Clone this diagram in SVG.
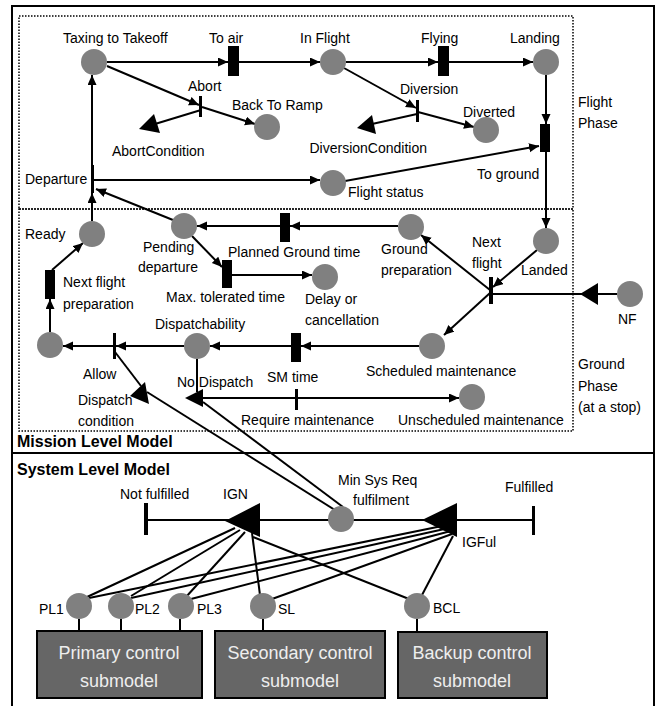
<svg xmlns="http://www.w3.org/2000/svg" width="657" height="706" viewBox="0 0 657 706">
<defs>
<style>
text{font-family:"Liberation Sans",Arial,sans-serif;font-size:14px;fill:#000}
.b{font-weight:bold;font-size:16px}
.bx{font-size:18px;fill:#eeeeee}
.pl{fill:#808080}
.c{stroke:#000;stroke-width:2;fill:none}
.ca{stroke:#000;stroke-width:2;fill:none;marker-end:url(#a)}
.tr{fill:#000}
.bar{fill:#000}
.dot{fill:none;stroke:#000;stroke-width:1.5;stroke-dasharray:1.5 1.5}
.box{fill:#666666;stroke:#000;stroke-width:2}
</style>
<marker id="a" markerUnits="userSpaceOnUse" markerWidth="11" markerHeight="10" refX="10" refY="4.5" orient="auto"><path d="M0,0 L10,4.5 L0,9 z" fill="#000"/></marker>
</defs>
<rect width="657" height="706" fill="#fff"/>
<g id="frame">
<path d="M12,706 V6 H654 V706" fill="none" stroke="#000" stroke-width="2"/>
<line x1="12" y1="453" x2="654" y2="453" stroke="#000" stroke-width="2"/>
<rect class="dot" x="19" y="16" width="554" height="193"/>
<rect class="dot" x="19" y="209" width="554" height="222"/>
<text x="578" y="107">Flight</text><text x="578" y="128">Phase</text>
<text x="578" y="369">Ground</text><text x="578" y="391">Phase</text><text x="578" y="412">(at a stop)</text>
<text class="b" x="17" y="447">Mission Level Model</text>
<text class="b" x="17" y="475">System Level Model</text>
</g>
<g id="connectors">
<line class="ca" x1="107" y1="62" x2="228" y2="62"/>
<line class="ca" x1="239" y1="62" x2="320" y2="62"/>
<line class="ca" x1="346" y1="62" x2="438" y2="62"/>
<line class="ca" x1="449" y1="62" x2="533" y2="62"/>
<line class="ca" x1="107" y1="66" x2="199" y2="105"/>
<line class="ca" x1="202" y1="107" x2="255" y2="124"/>
<line class="c" x1="201" y1="110" x2="155" y2="124"/>
<line class="ca" x1="344" y1="68" x2="416" y2="108"/>
<line class="ca" x1="418" y1="112" x2="474" y2="127"/>
<line class="c" x1="417" y1="114" x2="372" y2="124"/>
<line class="ca" x1="546" y1="75" x2="546" y2="124"/>
<line class="ca" x1="546" y1="152" x2="546" y2="228"/>
<line class="ca" x1="92" y1="165" x2="92" y2="75"/>
<line class="ca" x1="94" y1="180" x2="320" y2="180"/>
<line class="ca" x1="345" y1="181" x2="539" y2="146"/>
<line class="ca" x1="92" y1="221" x2="92" y2="193"/>
<line class="ca" x1="173" y1="220" x2="96" y2="189"/>
<line class="ca" x1="398" y1="226" x2="290" y2="226"/>
<line class="ca" x1="280" y1="226" x2="197" y2="226"/>
<line class="ca" x1="192" y1="236" x2="222" y2="267"/>
<line class="ca" x1="232" y1="275" x2="312" y2="275"/>
<line class="ca" x1="537" y1="250" x2="493" y2="287"/>
<line class="ca" x1="490" y1="290" x2="421" y2="235"/>
<line class="ca" x1="490" y1="293" x2="444" y2="335"/>
<line class="c" x1="492" y1="294" x2="617" y2="294"/>
<line class="ca" x1="419" y1="346" x2="301" y2="346"/>
<line class="ca" x1="291" y1="346" x2="210" y2="346"/>
<line class="ca" x1="184" y1="346" x2="116" y2="346"/>
<line class="ca" x1="114" y1="346" x2="63" y2="346"/>
<line class="ca" x1="50" y1="332" x2="50" y2="299"/>
<line class="ca" x1="52" y1="270" x2="83" y2="243"/>
<line class="c" x1="197" y1="359" x2="197" y2="392"/>
<line class="ca" x1="203" y1="398" x2="459" y2="398"/>
<line class="c" x1="115" y1="352" x2="141" y2="386"/>
<line class="c" x1="147" y1="392" x2="335" y2="510"/>
<line class="c" x1="203" y1="402" x2="343" y2="507"/>
<line class="c" x1="146" y1="520" x2="533" y2="520"/>
<line class="c" x1="235" y1="528" x2="87" y2="597"/>
<line class="c" x1="240" y1="530" x2="131" y2="596"/>
<line class="c" x1="245" y1="532" x2="186" y2="597"/>
<line class="c" x1="252" y1="533" x2="260" y2="595"/>
<line class="c" x1="253" y1="537" x2="409" y2="599"/>
<line class="c" x1="447" y1="525" x2="89" y2="598"/>
<line class="c" x1="449" y1="528" x2="131" y2="598"/>
<line class="c" x1="451" y1="531" x2="191" y2="599"/>
<line class="c" x1="452" y1="534" x2="272" y2="599"/>
<line class="c" x1="453" y1="536" x2="422" y2="595"/>
<line class="c" x1="79" y1="619" x2="79" y2="631"/>
<line class="c" x1="121" y1="619" x2="121" y2="631"/>
<line class="c" x1="180" y1="619" x2="180" y2="631"/>
<line class="c" x1="263" y1="619" x2="263" y2="631"/>
<line class="c" x1="417" y1="619" x2="417" y2="632"/>
</g>
<g id="taxing"><circle class="pl" cx="94" cy="62" r="13"/><text x="63" y="43">Taxing to Takeoff</text></g>
<g id="toair"><rect class="bar" x="228" y="46" width="11" height="30"/><text x="209" y="43">To air</text></g>
<g id="inflight"><circle class="pl" cx="333" cy="62" r="13"/><text x="300" y="43">In Flight</text></g>
<g id="flying"><rect class="bar" x="438" y="46" width="11" height="30"/><text x="421" y="43">Flying</text></g>
<g id="landing"><circle class="pl" cx="546" cy="62" r="13"/><text x="510" y="43">Landing</text></g>
<g id="abort"><rect class="bar" x="199" y="96" width="3" height="21"/><text x="188" y="91">Abort</text></g>
<g id="backramp"><circle class="pl" cx="267" cy="127" r="13"/><text x="232" y="110">Back To Ramp</text></g>
<g id="abortcond"><polygon class="tr" points="139,129 154,114 160,133"/><text x="112" y="156">AbortCondition</text></g>
<g id="diversion"><rect class="bar" x="416" y="100" width="3" height="22"/><text x="400" y="94">Diversion</text></g>
<g id="diverted"><circle class="pl" cx="486" cy="130" r="13"/><text x="463" y="117">Diverted</text></g>
<g id="divcond"><polygon class="tr" points="357,128 372,115 376,134"/><text x="427" y="153" text-anchor="end">DiversionCondition</text></g>
<g id="toground"><rect class="bar" x="540" y="124" width="10" height="28"/><text x="477" y="179">To ground</text></g>
<g id="departure"><rect class="bar" x="91" y="165" width="3" height="28"/><text x="25" y="184">Departure</text></g>
<g id="flightstatus"><circle class="pl" cx="333" cy="183" r="13"/><text x="348" y="197">Flight status</text></g>
<g id="ready"><circle class="pl" cx="92" cy="234" r="13"/><text x="25" y="239">Ready</text></g>
<g id="pending"><circle class="pl" cx="184" cy="226" r="13"/><text x="143" y="252">Pending</text><text x="138" y="272">departure</text></g>
<g id="plannedground"><rect class="bar" x="280" y="213" width="10" height="29"/><text x="228" y="257">Planned Ground  time</text></g>
<g id="groundprep"><circle class="pl" cx="411" cy="227" r="13"/><text x="381" y="254">Ground</text><text x="381" y="275">preparation</text></g>
<g id="nextflight"><rect class="bar" x="489" y="277" width="4" height="27"/><text x="472" y="247">Next</text><text x="472" y="268">flight</text></g>
<g id="landed"><circle class="pl" cx="546" cy="241" r="13"/><text x="521" y="275">Landed</text></g>
<g id="nf"><circle class="pl" cx="630" cy="294" r="13"/><polygon class="tr" points="580,294 598,283 598,305"/><text x="618" y="324">NF</text></g>
<g id="nextflightprep"><rect class="bar" x="45" y="270" width="10" height="29"/><text x="63" y="287">Next flight</text><text x="63" y="309">preparation</text></g>
<g id="maxtol"><rect class="bar" x="222" y="260" width="10" height="28"/><text x="166" y="302">Max. tolerated  time</text></g>
<g id="delay"><circle class="pl" cx="325" cy="277" r="13"/><text x="305" y="304">Delay or</text><text x="305" y="325">cancellation</text></g>
<g id="stop"><circle class="pl" cx="50" cy="345" r="13"/></g>
<g id="allow"><rect class="bar" x="113" y="333" width="3" height="26"/><text x="83" y="379">Allow</text></g>
<g id="dispatchability"><circle class="pl" cx="197" cy="346" r="13"/><text x="155" y="329">Dispatchability</text></g>
<g id="smtime"><rect class="bar" x="291" y="333" width="10" height="29"/><text x="267" y="382">SM time</text></g>
<g id="schedmaint"><circle class="pl" cx="432" cy="346" r="13"/><text x="366" y="376">Scheduled  maintenance</text></g>
<g id="dispcond"><polygon class="tr" points="130,396 145,382 149,404"/><text x="78" y="405">Dispatch</text><text x="78" y="426">condition</text></g>
<g id="nodispatch"><polygon class="tr" points="185,398 203,389 203,407"/><text x="177" y="387">No Dispatch</text></g>
<g id="reqmaint"><rect class="bar" x="295" y="389" width="3" height="21"/><text x="241" y="425">Require  maintenance</text></g>
<g id="unsched"><circle class="pl" cx="472" cy="397" r="13"/><text x="398" y="425">Unscheduled  maintenance</text></g>
<g id="notfulfilled"><rect class="bar" x="144" y="503" width="4" height="32"/><text x="120" y="499">Not fulfilled</text></g>
<g id="ign"><polygon class="tr" points="225,521 260,503 260,537"/><text x="223" y="499">IGN</text></g>
<g id="minsys"><circle class="pl" cx="341" cy="519" r="13"/><text x="338" y="485">Min Sys Req</text><text x="353" y="505">fulfilment</text></g>
<g id="igful"><polygon class="tr" points="422,520 457,503 457,537"/><text x="462" y="547">IGFul</text></g>
<g id="fulfilled"><rect class="bar" x="532" y="506" width="3" height="29"/><text x="505" y="492">Fulfilled</text></g>
<g id="pl1"><circle class="pl" cx="79" cy="606" r="13"/><text x="39" y="614">PL1</text></g>
<g id="pl2"><circle class="pl" cx="121" cy="606" r="13"/><text x="135" y="614">PL2</text></g>
<g id="pl3"><circle class="pl" cx="181" cy="606" r="13"/><text x="197" y="614">PL3</text></g>
<g id="sl"><circle class="pl" cx="263" cy="606" r="13"/><text x="278" y="614">SL</text></g>
<g id="bcl"><circle class="pl" cx="417" cy="606" r="13"/><text x="433" y="613">BCL</text></g>
<g id="primary"><rect class="box" x="37" y="631" width="165" height="67"/><text class="bx" x="119" y="659" text-anchor="middle">Primary control</text><text class="bx" x="119" y="687" text-anchor="middle">submodel</text></g>
<g id="secondary"><rect class="box" x="215" y="631" width="170" height="67"/><text class="bx" x="300" y="659" text-anchor="middle">Secondary control</text><text class="bx" x="300" y="687" text-anchor="middle">submodel</text></g>
<g id="backup"><rect class="box" x="398" y="632" width="149" height="66"/><text class="bx" x="472" y="659" text-anchor="middle">Backup control</text><text class="bx" x="472" y="687" text-anchor="middle">submodel</text></g>
</svg>
